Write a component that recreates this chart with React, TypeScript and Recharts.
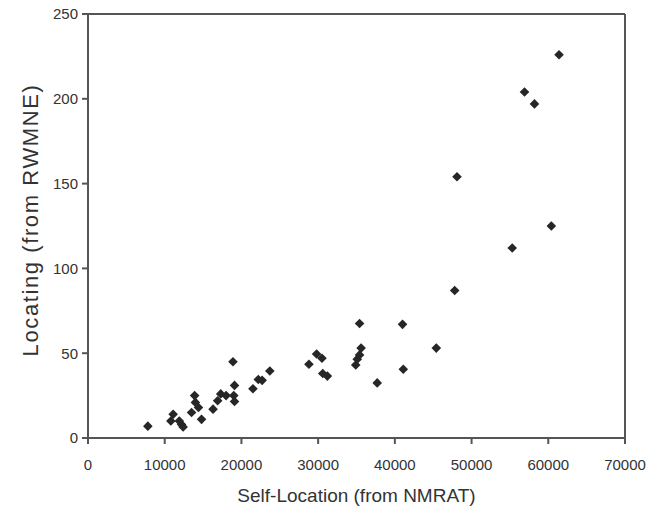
import { ScatterChart, Scatter, XAxis, YAxis, ReferenceLine } from "recharts"

// Self-Location (NMRAT) vs Locating (RWMNE)
const selfLocation = [
  7800, 10800, 11100, 11900, 12200, 12400, 13500, 13900, 14000, 14400, 14800,
  16300, 16900, 17300, 18000, 18900, 19100, 19000, 19100, 21500, 22200, 22700,
  23700, 28800, 29800, 30500, 30600, 31200, 34900, 35100, 35400, 35600, 35400,
  37700, 41000, 41100, 45400, 47800, 48100, 55300, 56900, 58200, 60400, 61400,
]
const locating = [
  7, 10, 14, 10, 8, 6.5, 15, 25, 21, 18, 11,
  17, 22, 26, 25, 45, 31, 25, 21.5, 29, 34.5, 34,
  39.5, 43.5, 49.5, 47, 38, 36.5, 43, 46.5, 49, 53, 67.5,
  32.5, 67, 40.5, 53, 87, 154, 112, 204, 197, 125, 226,
]
const xTicks = [0, 10000, 20000, 30000, 40000, 50000, 60000, 70000]
const yTicks = [0, 50, 100, 150, 200, 250]

const points = selfLocation.map((x, i) => ({ x, y: locating[i] }))

const axisColor = "#555"
const textColor = "#333"
const font = "Liberation Sans, Arial, sans-serif"

const Diamond = (props: any) => {
  const { cx, cy } = props
  const r = 4.8
  return (
    <path
      d={`M${cx},${cy - r}L${cx + r},${cy}L${cx},${cy + r}L${cx - r},${cy}Z`}
      fill="#262626"
    />
  )
}

const YTitle = (props: any) => {
  const { x, y, height } = props.viewBox
  const cx = x + 22
  const cy = y + height / 2 - 6
  return (
    <text
      x={cx}
      y={cy}
      transform={`rotate(-90, ${cx}, ${cy})`}
      textAnchor="middle"
      dominantBaseline="central"
      fontSize={22}
      letterSpacing={1.6}
      fill={textColor}
    >
      Locating (from RWMNE)
    </text>
  )
}

export default function App() {
  return (
    <div style={{ position: "absolute", left: 0, top: 0, background: "#fff" }}>
      <ScatterChart
        width={651}
        height={518}
        margin={{ top: 14, right: 26, left: 8, bottom: 8 }}
        style={{ fontFamily: font }}
      >
        <XAxis
          type="number"
          dataKey="x"
          domain={[0, 70000]}
          ticks={xTicks}
          height={72}
          tickSize={6}
          tickMargin={15}
          stroke={axisColor}
          strokeWidth={2}
          tick={{ fontSize: 15, fill: textColor }}
          label={{
            value: "Self-Location (from NMRAT)",
            position: "insideBottom",
            offset: 8,
            style: { fontSize: 19, fill: textColor },
          }}
        />
        <YAxis
          type="number"
          dataKey="y"
          domain={[0, 250]}
          ticks={yTicks}
          width={80}
          tickSize={6}
          tickMargin={4}
          stroke={axisColor}
          strokeWidth={2}
          tick={{ fontSize: 15, fill: textColor }}
          label={{ content: YTitle }}
        />
        <ReferenceLine y={250} stroke={axisColor} strokeWidth={2} />
        <ReferenceLine x={70000} stroke={axisColor} strokeWidth={2} />
        <Scatter data={points} shape={Diamond} isAnimationActive={false} />
      </ScatterChart>
    </div>
  )
}
